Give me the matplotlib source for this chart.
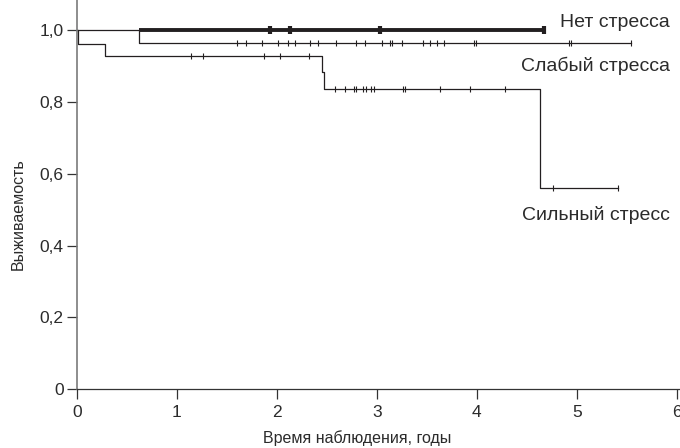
import numpy as np
import matplotlib.pyplot as plt

plt.rcParams['font.family'] = ['Liberation Sans', 'DejaVu Sans']

# Kaplan-Meier steps (time, survival)
strong_t = [0, 0.015, 0.28, 2.45, 2.47, 4.63, 5.41]
strong_s = [1.0, 0.961, 0.928, 0.884, 0.835, 0.559, 0.559]
strong_cens = [1.14, 1.26, 1.87, 2.03, 2.32, 2.58, 2.68, 2.77, 2.79, 2.86,
               2.89, 2.94, 2.97, 3.26, 3.28, 3.63, 3.93, 4.28, 4.76, 5.41]

weak_t = [0, 0.626, 5.54]
weak_s = [1.0, 0.963, 0.963]
weak_cens = [1.60, 1.69, 1.85, 2.01, 2.11, 2.18, 2.33, 2.41, 2.59, 2.79,
             2.88, 3.05, 3.13, 3.15, 3.25, 3.46, 3.53, 3.60, 3.67, 3.97,
             3.99, 4.92, 4.94, 5.54]

none_t = [0.626, 4.67]
none_s = [1.0, 1.0]
none_cens = [1.93, 2.13, 3.03, 4.67]

labels = ["Нет стресса", "Слабый стресса", "Сильный стресс"]
yticks = [0, 0.2, 0.4, 0.6, 0.8, 1.0]
ytick_labels = ["0", "0,2", "0,4", "0,6", "0,8", "1,0"]
xticks = [0, 1, 2, 3, 4, 5, 6]

ink = "#231f20"
txt = "#2b2b2b"


def level_at(times, surv, t):
    # survival value of a step curve at time t
    idx = np.searchsorted(times, t, side="right") - 1
    return surv[max(idx, 0)]


fig = plt.figure(figsize=(6.8, 4.48), dpi=100)
ax = fig.add_axes([76.7 / 680, 58.7 / 448, 603.3 / 680, 389.3 / 448])

# weak stress
ax.plot(weak_t, weak_s, drawstyle="steps-post", color=ink, lw=0.9)
ax.plot(weak_cens, [level_at(weak_t, weak_s, t) for t in weak_cens],
        ls="none", marker="|", ms=4.5, mew=0.8, color=ink)

# strong stress
ax.plot(strong_t, strong_s, drawstyle="steps-post", color=ink, lw=0.9)
ax.plot(strong_cens, [level_at(strong_t, strong_s, t) for t in strong_cens],
        ls="none", marker="|", ms=4.5, mew=0.8, color=ink)

# no stress (thick)
ax.plot(none_t, none_s, color=ink, lw=2.8, solid_capstyle="butt")
ax.plot(none_cens, none_s[:1] * len(none_cens),
        ls="none", marker="|", ms=5.5, mew=3, color=ink)

ax.set_xlim(0, 6.033)
ax.set_ylim(0, 389.3 / 359.3)
ax.set_xticks(xticks)
ax.set_yticks(yticks)
ax.set_yticklabels(ytick_labels)
ax.tick_params(direction="out", length=7.5, width=0.9, colors="#333333",
               labelsize=12.5, labelcolor=txt)
ax.tick_params(axis="x", pad=4)
ax.tick_params(axis="y", pad=2)
for side in ["top", "right"]:
    ax.spines[side].set_visible(False)
ax.spines["left"].set_color("#7a7a7a")
ax.spines["left"].set_linewidth(1.2)
ax.spines["bottom"].set_color("#333333")
ax.spines["bottom"].set_linewidth(0.9)

# curve labels, placed by baseline
ax.text(670 / 680, (448 - 27) / 448, labels[0], transform=fig.transFigure,
        ha="right", va="baseline", fontsize=14, color=txt)
ax.text(670 / 680, (448 - 71) / 448, labels[1], transform=fig.transFigure,
        ha="right", va="baseline", fontsize=14, color=txt)
ax.text(670 / 680, (448 - 220) / 448, labels[2], transform=fig.transFigure,
        ha="right", va="baseline", fontsize=14, color=txt)

fig.text(357 / 680, (448 - 438) / 448, "Время наблюдения, годы",
         ha="center", va="center", fontsize=11.5, color=txt)
fig.text(18 / 680, (448 - 214) / 448, "Выживаемость", rotation=90,
         ha="center", va="center", fontsize=11.5, color=txt)

fig.savefig("out.png", dpi=100)
